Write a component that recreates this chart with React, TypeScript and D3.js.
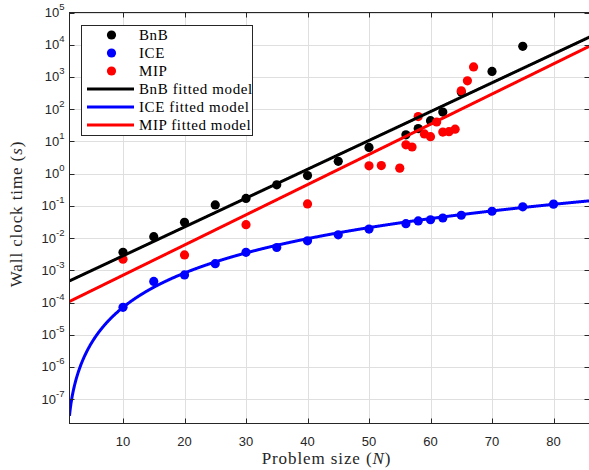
import { useEffect, useRef } from 'react';
import * as d3 from 'd3';

// measured run times (seconds) per problem size
const bnbN = [10, 15, 20, 25, 30, 35, 40, 45, 50, 56, 58, 60, 62, 65, 70, 75];
const bnbT = [3.6e-3, 0.011, 0.031, 0.107, 0.17, 0.45, 0.87, 2.4, 6.5, 16, 25, 44, 81, 340, 1480, 8900];

const iceN = [10, 15, 20, 25, 30, 35, 40, 45, 50, 56, 58, 60, 62, 65, 70, 75, 80];
const iceT = [7.1e-5, 4.5e-4, 7.2e-4, 1.6e-3, 3.6e-3, 5.1e-3, 8.2e-3, 0.0126, 0.019, 0.028, 0.034, 0.037, 0.042, 0.051, 0.068, 0.093, 0.113];

const mipN = [10, 20, 30, 40, 50, 52, 55, 56, 57, 58, 59, 60, 61, 62, 63, 64, 65, 66, 67];
const mipT = [2.2e-3, 3.0e-3, 0.026, 0.115, 1.75, 1.78, 1.48, 7.8, 6.7, 59, 17, 14, 40, 19.5, 20, 24, 370, 760, 2040];

// fitted model parameters
const bnbFit = { a: -3.446, b: 0.0895 }; // log10 t = a + b N
const mipFit = { a: -4.09, b: 0.0937 };
const iceFit = { a: 2.04e-8, p: 3.54, d: 2.1e-8 }; // t = a N^p - d

const xTicks = [10, 20, 30, 40, 50, 60, 70, 80];
const yExps = [-7, -6, -5, -4, -3, -2, -1, 0, 1, 2, 3, 4, 5];

const legendItems = [
  { label: 'BnB', color: '#000000', kind: 'dot' },
  { label: 'ICE', color: '#0000ff', kind: 'dot' },
  { label: 'MIP', color: '#ff0000', kind: 'dot' },
  { label: 'BnB fitted model', color: '#000000', kind: 'line' },
  { label: 'ICE fitted model', color: '#0000ff', kind: 'line' },
  { label: 'MIP fitted model', color: '#ff0000', kind: 'line' },
];

export default function App() {
  const rootRef = useRef<HTMLDivElement>(null);

  useEffect(() => {
    const container = rootRef.current;
    if (!container) return undefined;
    d3.select(container).selectAll('*').remove();

    const width = 589;
    const height = 470;
    const left = 69.5;
    const right = 589.5;
    const top = 12.5;
    const bottom = 423.5;
    const axisColor = '#262626';
    const tickFont = '"Liberation Sans", Arial, sans-serif';
    const texFont = '"Liberation Serif", "Times New Roman", serif';

    const svg = d3
      .select(container)
      .append('svg')
      .attr('width', width)
      .attr('height', height)
      .style('display', 'block');

    svg.append('rect').attr('width', width).attr('height', height).attr('fill', '#fff');

    const x = d3.scaleLinear().domain([1.3, 85.85]).range([left, right]);
    const y = d3.scaleLog().domain([Math.pow(10, -7.755), 1e5]).range([bottom, top]);

    svg.append('defs')
      .append('clipPath')
      .attr('id', 'plot-clip')
      .append('rect')
      .attr('x', left)
      .attr('y', top)
      .attr('width', right - left)
      .attr('height', bottom - top);

    // grid
    const grid = svg.append('g').attr('stroke', '#dfdfdf').attr('stroke-width', 1);
    xTicks.forEach(t => {
      grid.append('line').attr('x1', Math.round(x(t)) + 0.5).attr('x2', Math.round(x(t)) + 0.5).attr('y1', top).attr('y2', bottom);
    });
    yExps.forEach(e => {
      const yy = Math.round(y(Math.pow(10, e))) + 0.5;
      grid.append('line').attr('x1', left).attr('x2', right).attr('y1', yy).attr('y2', yy);
    });

    const plot = svg.append('g').attr('clip-path', 'url(#plot-clip)');

    const scatter = [
      { n: bnbN, t: bnbT, color: '#000000' },
      { n: iceN, t: iceT, color: '#0000ff' },
      { n: mipN, t: mipT, color: '#ff0000' },
    ];
    scatter.forEach(s => {
      s.n.forEach((n, i) => {
        plot.append('circle').attr('cx', x(n)).attr('cy', y(s.t[i])).attr('r', 4.6).attr('fill', s.color);
      });
    });

    const samples = d3.range(1.3, 86, 0.05);
    const fits = [
      { color: '#000000', f: (n: number) => Math.pow(10, bnbFit.a + bnbFit.b * n) },
      { color: '#0000ff', f: (n: number) => iceFit.a * Math.pow(n, iceFit.p) - iceFit.d },
      { color: '#ff0000', f: (n: number) => Math.pow(10, mipFit.a + mipFit.b * n) },
    ];
    const line = d3
      .line<[number, number]>()
      .x(d => x(d[0]))
      .y(d => y(d[1]));
    fits.forEach(fit => {
      const pts = samples.map(n => [n, fit.f(n)] as [number, number]).filter(d => d[1] > 1e-9);
      plot.append('path')
        .datum(pts)
        .attr('fill', 'none')
        .attr('stroke', fit.color)
        .attr('stroke-width', 3)
        .attr('stroke-linejoin', 'round')
        .attr('d', line);
    });

    // axes box and ticks
    const axes = svg.append('g').attr('stroke', axisColor).attr('stroke-width', 1).attr('fill', 'none');
    axes.append('rect').attr('x', left).attr('y', top).attr('width', right - left).attr('height', bottom - top);
    xTicks.forEach(t => {
      const xx = Math.round(x(t)) + 0.5;
      axes.append('line').attr('x1', xx).attr('x2', xx).attr('y1', bottom).attr('y2', bottom - 5);
      axes.append('line').attr('x1', xx).attr('x2', xx).attr('y1', top).attr('y2', top + 5);
    });
    yExps.forEach(e => {
      const yy = Math.round(y(Math.pow(10, e))) + 0.5;
      axes.append('line').attr('x1', left).attr('x2', left + 5).attr('y1', yy).attr('y2', yy);
      axes.append('line').attr('x1', right).attr('x2', right - 5).attr('y1', yy).attr('y2', yy);
    });

    // tick labels
    xTicks.forEach(t => {
      svg.append('text')
        .attr('x', x(t))
        .attr('y', bottom + 22)
        .attr('text-anchor', 'middle')
        .attr('font-family', tickFont)
        .attr('font-size', 13)
        .attr('fill', axisColor)
        .text(t);
    });
    yExps.forEach(e => {
      const label = svg.append('text')
        .attr('x', left - 5)
        .attr('y', y(Math.pow(10, e)) + 4.5)
        .attr('text-anchor', 'end')
        .attr('font-family', tickFont)
        .attr('font-size', 13)
        .attr('fill', axisColor);
      label.append('tspan').text('10');
      label.append('tspan').attr('dy', -7).attr('font-size', 9.5).text(String(e));
    });

    // axis titles
    const xTitle = svg.append('text')
      .attr('x', (left + right) / 2 - 3)
      .attr('y', 464)
      .attr('text-anchor', 'middle')
      .attr('font-family', texFont)
      .attr('font-size', 17)
      .attr('letter-spacing', 0.9)
      .attr('fill', axisColor);
    xTitle.append('tspan').text('Problem size (');
    xTitle.append('tspan').attr('font-style', 'italic').text('N');
    xTitle.append('tspan').text(')');

    const yTitle = svg.append('text')
      .attr('transform', `translate(22,${(top + bottom) / 2 - 4}) rotate(-90)`)
      .attr('text-anchor', 'middle')
      .attr('font-family', texFont)
      .attr('font-size', 17)
      .attr('letter-spacing', 0.9)
      .attr('fill', axisColor);
    yTitle.append('tspan').text('Wall clock time (');
    yTitle.append('tspan').attr('font-style', 'italic').text('s');
    yTitle.append('tspan').text(')');

    // legend
    const legend = svg.append('g');
    legend.append('rect')
      .attr('x', 81.5)
      .attr('y', 25.5)
      .attr('width', 171)
      .attr('height', 110)
      .attr('fill', '#fff')
      .attr('stroke', axisColor)
      .attr('stroke-width', 1);
    legendItems.forEach((item, i) => {
      const yy = 35 + i * 18;
      if (item.kind === 'dot') {
        legend.append('circle').attr('cx', 111.5).attr('cy', yy).attr('r', 4.6).attr('fill', item.color);
      } else {
        legend.append('line')
          .attr('x1', 87)
          .attr('x2', 134)
          .attr('y1', yy)
          .attr('y2', yy)
          .attr('stroke', item.color)
          .attr('stroke-width', 3);
      }
      legend.append('text')
        .attr('x', 139)
        .attr('y', yy + 5)
        .attr('font-family', texFont)
        .attr('font-size', 15)
        .attr('letter-spacing', 0.6)
        .attr('fill', '#000')
        .text(item.label);
    });

    return () => {
      d3.select(container).selectAll('*').remove();
    };
  }, []);

  return <div ref={rootRef} style={{ position: 'absolute', left: 0, top: 0 }} />;
}
